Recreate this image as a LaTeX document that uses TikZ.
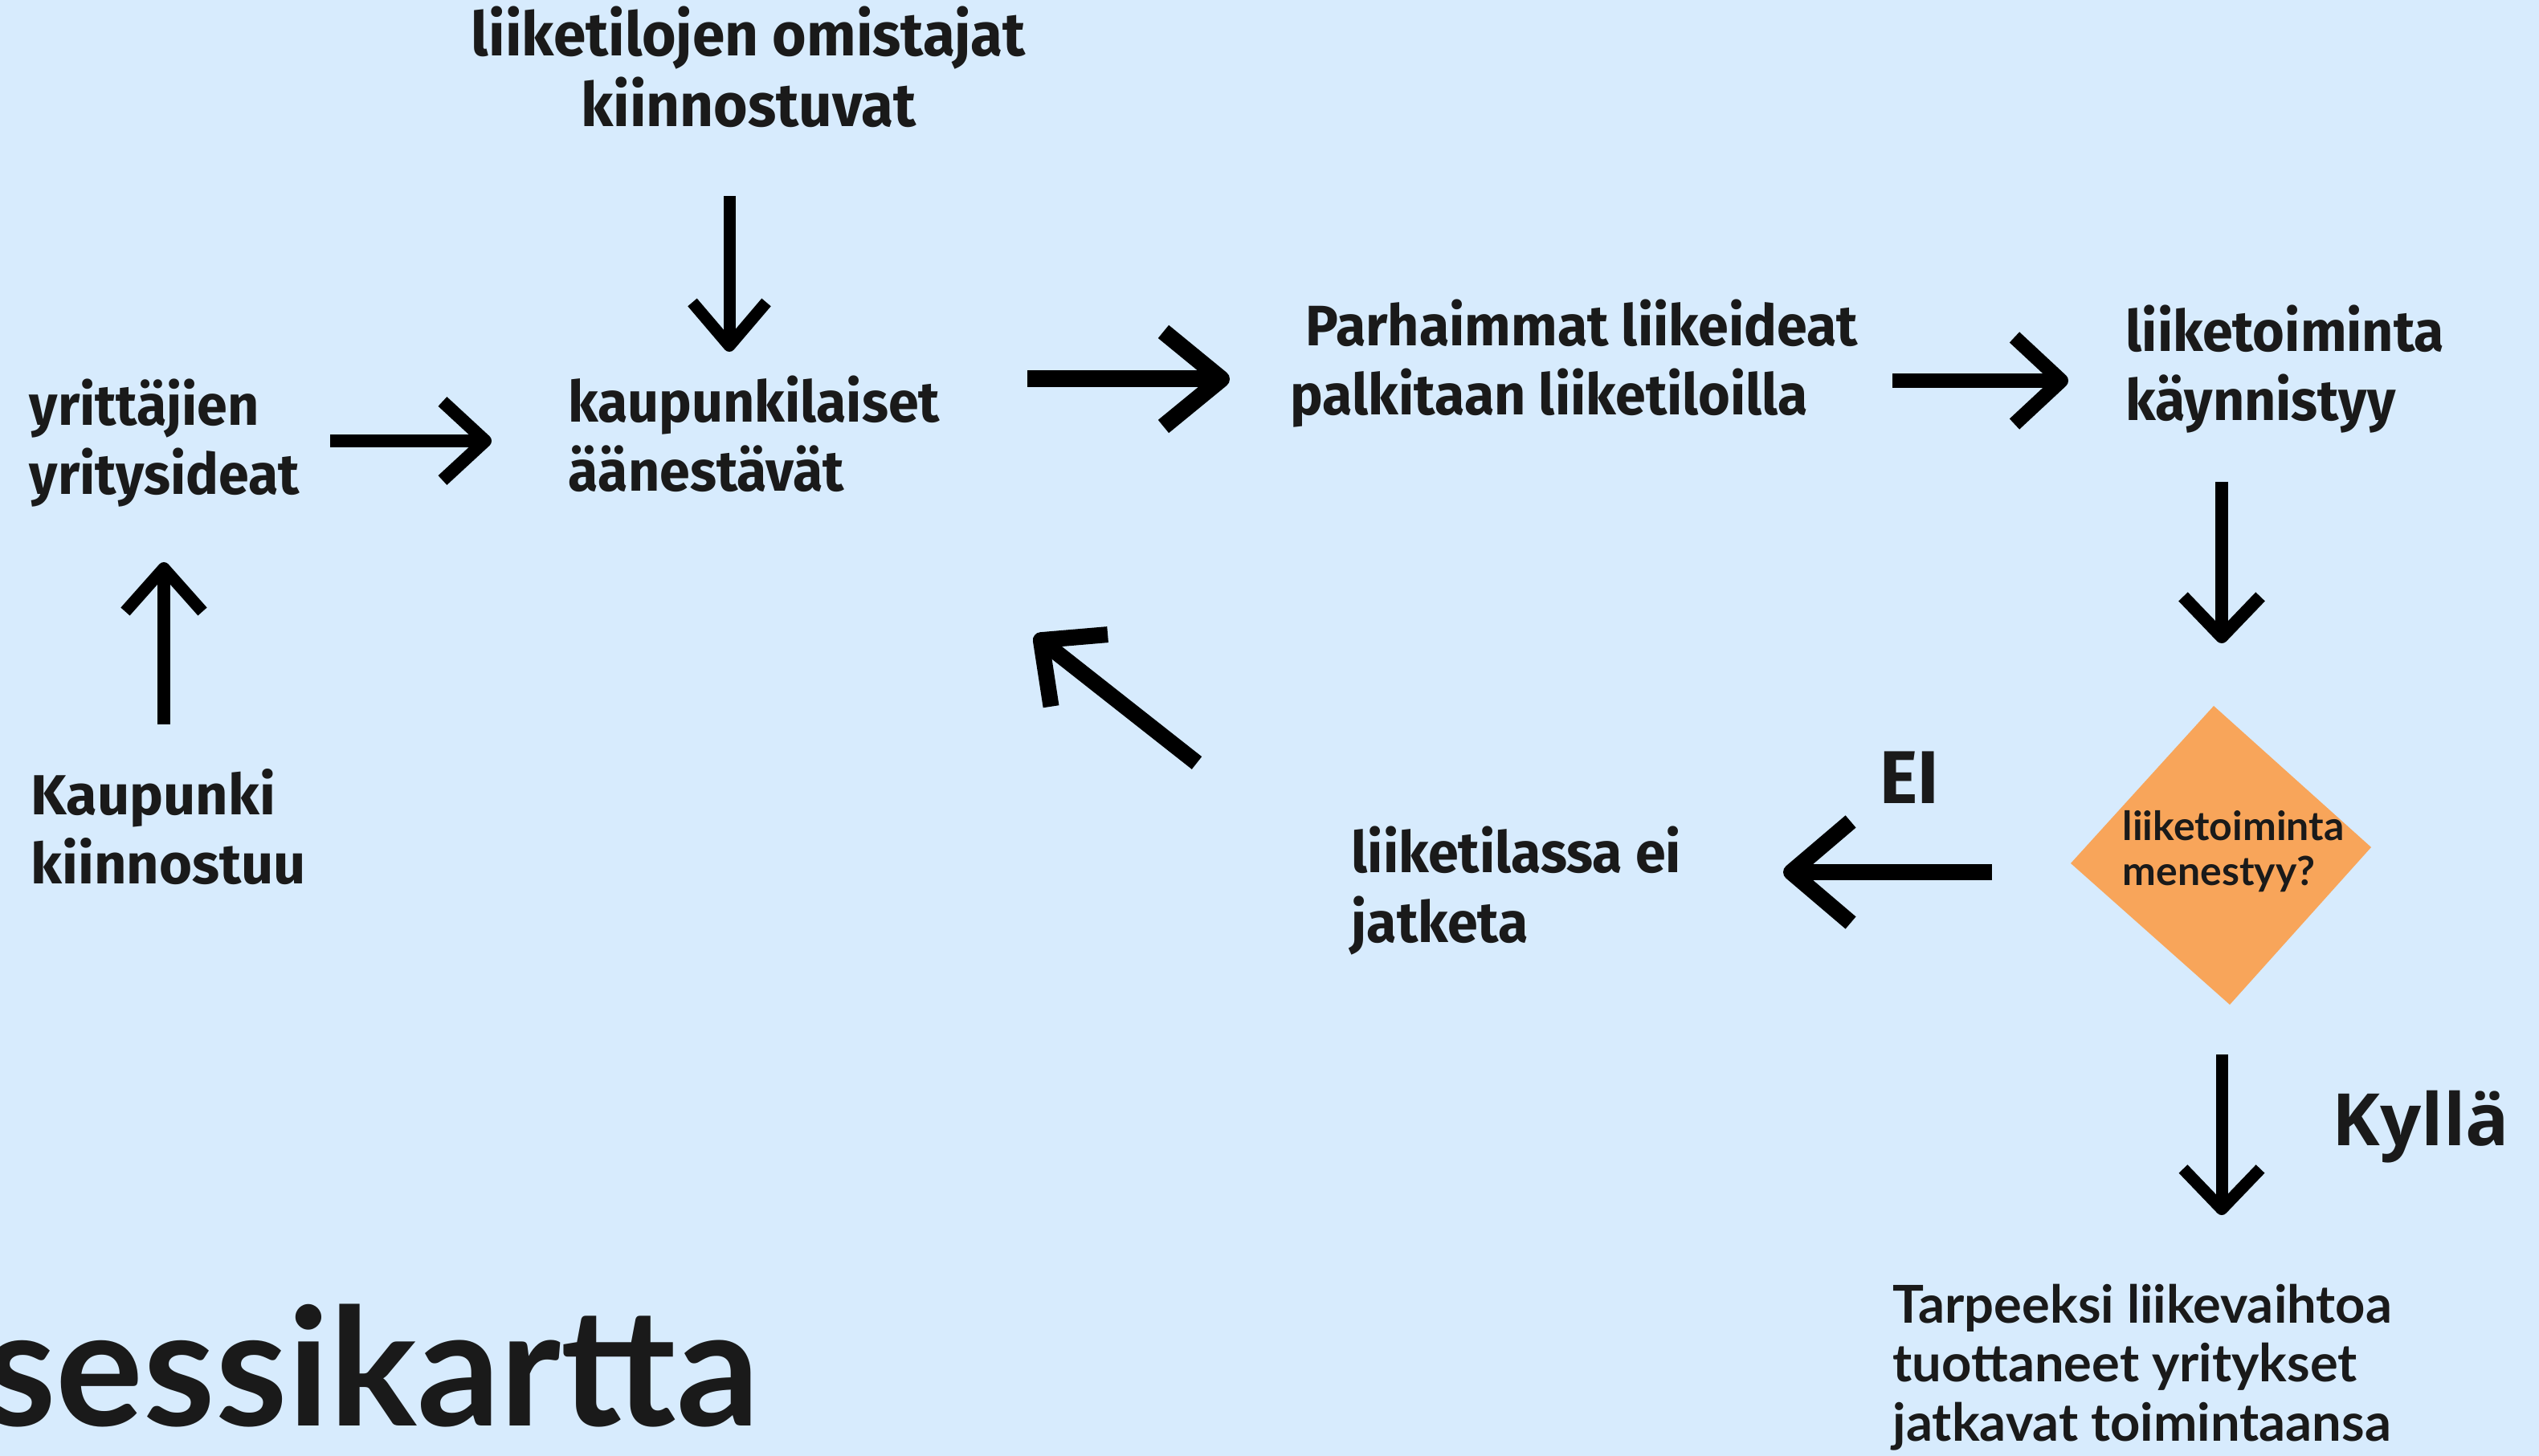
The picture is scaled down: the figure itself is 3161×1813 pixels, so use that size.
\documentclass[tikz,border=0pt]{standalone}
\usepackage{fontspec}
\setmainfont{Fira Sans}
\newfontfamily\fira[FakeStretch=0.96]{Fira Sans}
\newfontfamily\firaw{Fira Sans}
\newfontfamily\lato{Lato}
\newfontfamily\opens{Open Sans}
\usetikzlibrary{arrows.meta}
\definecolor{bg}{HTML}{D7EBFD}
\definecolor{ink}{HTML}{1A1A1A}
\definecolor{dia}{HTML}{F8A55A}
\tikzset{
  lbl/.style={inner sep=0pt, text=ink, align=left, anchor=base west,
    font=\fira\bfseries\fontsize{20.2}{24.5}\selectfont},
  flow/.style args={#1/#2/#3}{draw=black, line width=#1,
    -{Straight Barb[length=#2, width=#3, line join=round]}},
}
\begin{document}
\begin{tikzpicture}[x=0.01cm, y=-0.01cm]
\useasboundingbox (0,0) rectangle (3161,1813);
\clip (0,0) rectangle (3161,1813);
\fill[bg] (0,0) rectangle (3161,1813);

% texts (anchor = baseline of the last line)
\node[lbl, align=center, anchor=base, font=\fira\bfseries\fontsize{21.6}{25.2}\selectfont] (owners) at (932,158) {liiketilojen omistajat\\kiinnostuvat};
\node[lbl] (ideas) at (36,616) {yrittäjien\\yritysideat};
\node[lbl] (vote) at (707,612) {kaupunkilaiset\\äänestävät};
\node[lbl] (best) at (1606,517) {\hspace*{0.19cm}Parhaimmat liikeideat\\palkitaan liiketiloilla};
\node[lbl] (start) at (2646,524) {liiketoiminta\\käynnistyy};
\node[lbl] (stop) at (1682,1173) {liiketilassa ei\\jatketa};
\node[lbl, font=\firaw\bfseries\fontsize{20}{24.2}\selectfont] (city) at (38,1100) {Kaupunki\\kiinnostuu};

% decision diamond
\coordinate (dT) at (2756,879);
\coordinate (dR) at (2952,1055);
\coordinate (dB) at (2776,1251);
\coordinate (dL) at (2578,1075);
\fill[dia] (dT) -- (dR) -- (dB) -- (dL) -- cycle;
\node[lbl, font=\lato\bfseries\fontsize{14.2}{15.9}\selectfont] (dtext) at (2642,1102) {liiketoiminta\\menestyy?};

\node[lbl, font=\fira\bfseries\fontsize{26.5}{30}\selectfont] (ei) at (2340,1000) {EI};
\node[lbl, font=\opens\bfseries\fontsize{25.6}{30}\selectfont] (kylla) at (2903,1426) {Kyllä};
\node[lbl, font=\lato\bfseries\fontsize{18.5}{20.8}\selectfont] (cont) at (2356,1794) {Tarpeeksi liikevaihtoa\\tuottaneet yritykset\\jatkavat toimintaansa};

\node[inner sep=0pt, text=ink, anchor=base east, font=\lato\bfseries\fontsize{58}{60}\selectfont] (title) at (946,1775) {sessikartta};

% arrow end points
\coordinate (a1s) at (908,244);  \coordinate (a1e) at (908,438);
\coordinate (a2s) at (411,549);  \coordinate (a2e) at (612,549);
\coordinate (a3s) at (204,902);  \coordinate (a3e) at (204,700);
\coordinate (a4s) at (1279,472); \coordinate (a4e) at (1531,472);
\coordinate (a5s) at (2356,474); \coordinate (a5e) at (2575,474);
\coordinate (a6s) at (2766,600); \coordinate (a6e) at (2766,801);
\coordinate (a7s) at (2480,1086); \coordinate (a7e) at (2220,1086);
\coordinate (a8s) at (1490,950); \coordinate (a8e) at (1288,791);
\coordinate (a9s) at (2766,1313); \coordinate (a9e) at (2766,1513);

\draw[flow=0.15cm/0.54cm/0.92cm] (a1s) -- (a1e);
\draw[flow=0.16cm/0.53cm/0.98cm] (a2s) -- (a2e);
\draw[flow=0.15cm/0.54cm/0.96cm] (a3s) -- (a3e);
\draw[flow=0.21cm/0.72cm/1.18cm] (a4s) -- (a4e);
\draw[flow=0.18cm/0.58cm/1.08cm] (a5s) -- (a5e);
\draw[flow=0.16cm/0.50cm/0.96cm] (a6s) -- (a6e);
\draw[flow=0.20cm/0.74cm/1.26cm] (a7s) -- (a7e);
\draw[flow=0.20cm/0.61cm/1.14cm] (a8s) -- (a8e);
\draw[flow=0.15cm/0.50cm/0.96cm] (a9s) -- (a9e);
\end{tikzpicture}
\end{document}
